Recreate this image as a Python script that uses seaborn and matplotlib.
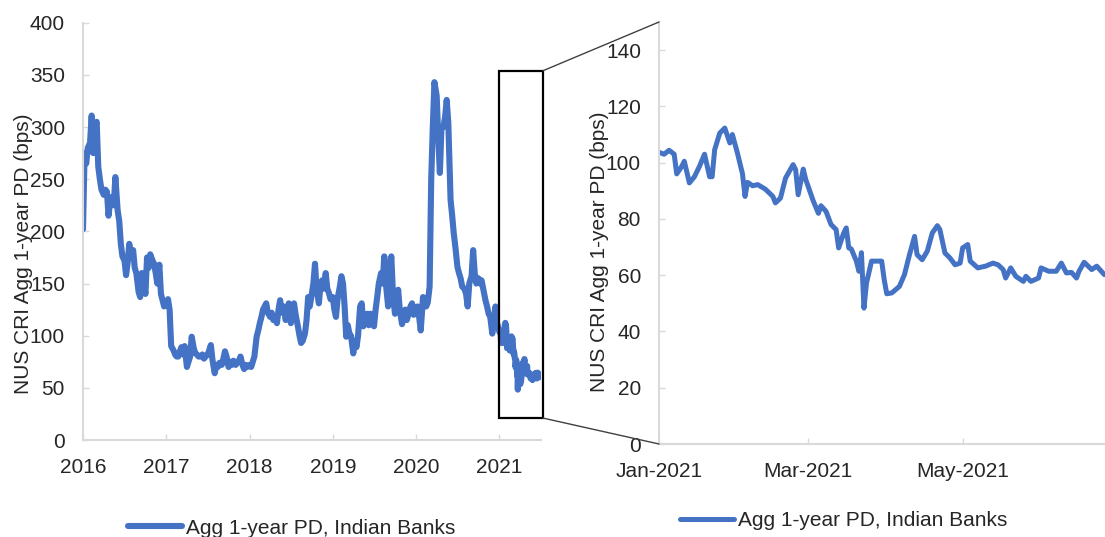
import numpy as np
import pandas as pd
import matplotlib
matplotlib.use("Agg")
import matplotlib.pyplot as plt
import matplotlib.dates as mdates
from matplotlib.patches import Rectangle, ConnectionPatch
import seaborn as sns

# ---------------- data ----------------
# weekly readings (days 1, 8, 15, 22 of each month), bps
vals_2016 = [202, 275, 265, 280, 285, 311, 275, 300, 305, 262, 250, 240,
             235, 240, 238, 215, 232, 233, 225, 252, 220, 210, 188, 176,
             172, 158, 170, 188, 175, 182, 165, 160, 142, 137, 160, 153,
             140, 175, 165, 178, 172, 169, 160, 150, 168, 140, 134, 128]
vals_2017 = [130, 135, 125, 90, 86, 82, 80, 80, 85, 89, 82, 90,
             70, 75, 80, 99, 88, 83, 82, 80, 80, 82, 78, 80,
             82, 86, 91, 77, 64, 72, 70, 74, 72, 78, 85, 80,
             70, 75, 72, 76, 72, 74, 76, 80, 72, 68, 72, 70]
vals_2018 = [72, 70, 75, 80, 99, 105, 112, 118, 125, 128, 131, 122,
             118, 122, 115, 118, 112, 125, 134, 122, 128, 115, 120, 131,
             112, 125, 131, 120, 109, 100, 93, 95, 102, 115, 137, 128,
             140, 150, 169, 145, 131, 148, 153, 145, 160, 145, 141, 135]
vals_2019 = [137, 125, 118, 135, 147, 157, 150, 128, 99, 110, 102, 100,
             83, 95, 89, 100, 128, 131, 109, 115, 121, 110, 121, 112,
             109, 125, 137, 150, 160, 150, 176, 150, 128, 165, 176, 140,
             121, 130, 144, 125, 111, 118, 125, 115, 122, 128, 131, 120]
vals_2020 = [125, 128, 118, 105, 137, 130, 128, 132, 147, 250, 300, 343,
             330, 290, 256, 300, 300, 310, 326, 304, 230, 215, 198, 185,
             166, 160, 155, 147, 145, 140, 128, 150, 157, 182, 160, 150,
             155, 150, 153, 145, 134, 128, 121, 118, 102, 115, 128, 112]

# 2021: days after 1 Jan 2021 and readings (zoomed panel)
days_2021 = [0, 2, 4, 6, 7, 9, 10, 12, 14, 16, 18, 20, 21, 22, 24, 26, 28, 29,
             31, 33, 34, 35, 37, 39, 42, 45, 46, 48, 50, 53, 54, 55, 57, 58,
             61, 63, 64, 66, 68, 70, 71, 73, 74, 75, 76, 78, 79, 80, 81, 82,
             84, 86, 88, 89, 90, 92, 95, 97, 99, 101, 102, 104, 106, 108, 110,
             111, 113, 115, 117, 119, 120, 122, 123, 126, 129, 132, 134, 136,
             137, 139, 141, 144, 145, 147, 150, 151, 154, 157, 159, 161, 163,
             165, 166, 168, 171, 173, 176]
vals_2021 = [103.7, 103, 104.4, 103, 96, 98.7, 100.5, 92.8, 95, 98.7, 103, 95,
             95, 104.6, 110.5, 112.3, 107, 110, 103.4, 96, 88, 93, 91.8, 92.2,
             90.6, 88, 85.7, 87.4, 94.5, 99.3, 97.5, 88.6, 97.7, 94, 86.3, 82,
             84.7, 82.7, 78, 76.2, 69.7, 75, 76.8, 69.7, 69.3, 65, 61.4, 68,
             48.3, 57.2, 65, 65, 65, 58.4, 53.4, 53.7, 56, 60.2, 67.3, 73.8,
             67.3, 65.5, 68.5, 75, 77.6, 76.2, 67.9, 66.1, 63.7, 64.3, 69.7,
             70.9, 65, 62.6, 63.2, 64.3, 63.7, 62, 59, 62.6, 59.6, 57.8, 59.6,
             57.8, 59, 62.6, 61.4, 61.4, 64.3, 60.8, 61, 59, 61.4, 64.6, 62,
             63.2, 60.2]

years = [2016, 2017, 2018, 2019, 2020]
week_days = [1, 8, 15, 22]
series_label = "Agg 1-year PD, Indian Banks"
y_label = "NUS CRI Agg 1-year PD (bps)"
left_yticks = [0, 50, 100, 150, 200, 250, 300, 350, 400]
right_yticks = [0, 20, 40, 60, 80, 100, 120, 140]

dates_hist = [pd.Timestamp(y, m, d) for y in years for m in range(1, 13) for d in week_days]
dates_2021 = list(pd.Timestamp("2021-01-01") + pd.to_timedelta(days_2021, unit="D"))
df_all = pd.DataFrame({
    "date": dates_hist + dates_2021,
    "pd": vals_2016 + vals_2017 + vals_2018 + vals_2019 + vals_2020 + vals_2021,
})
df_21 = pd.DataFrame({"date": dates_2021, "pd": vals_2021})

# ---------------- style ----------------
BLUE = "#4472C4"
SPINE = "#d9d9d9"
TXT = "#262626"
sns.set_theme(style="white")
plt.rcParams["font.family"] = ["Liberation Sans", "DejaVu Sans"]

W, H = 1105, 537
fig = plt.figure(figsize=(W / 100, H / 100), dpi=100)
ax1 = fig.add_axes([83 / W, 1 - 440 / H, 457.6 / W, 417.3 / H])
ax2 = fig.add_axes([659 / W, 1 - 444 / H, 458 / W, 422 / H])

sns.lineplot(data=df_all, x="date", y="pd", ax=ax1, color=BLUE, lw=4.4,
             estimator=None, sort=False, legend=False)
sns.lineplot(data=df_21, x="date", y="pd", ax=ax2, color=BLUE, lw=3.6,
             estimator=None, sort=False, legend=False)

# left axis
ax1.set_xlim(pd.Timestamp("2016-01-01"), pd.Timestamp("2021-07-01"))
ax1.set_ylim(0, 400)
ax1.set_yticks(left_yticks)
ax1.set_xticks([pd.Timestamp(f"{y}-01-01") for y in range(2016, 2022)])
ax1.xaxis.set_major_formatter(mdates.DateFormatter("%Y"))

# right axis
ax2.set_xlim(pd.Timestamp("2021-01-01"), pd.Timestamp("2021-07-01"))
ax2.set_ylim(0, 150)
ax2.set_yticks(right_yticks)
ax2.set_xticks([pd.Timestamp("2021-01-01"), pd.Timestamp("2021-03-01"), pd.Timestamp("2021-05-01")])
ax2.xaxis.set_major_formatter(mdates.DateFormatter("%b-%Y"))

for ax, lx, ly in ((ax1, -0.13, 0.446), (ax2, -0.13, 0.455)):
    for s in ("top", "right"):
        ax.spines[s].set_visible(False)
    for s in ("left", "bottom"):
        ax.spines[s].set_color(SPINE)
        ax.spines[s].set_linewidth(1.5)
    ax.tick_params(axis="both", direction="in", length=4, width=1, color=SPINE,
                   labelsize=15, labelcolor=TXT, pad=13)
    ax.tick_params(axis="both", which="both", bottom=True, left=True)
    ax.set_xlabel("")
    ax.set_ylabel(y_label, fontsize=15, color=TXT)
    ax.yaxis.label.set_verticalalignment("center")
    ax.yaxis.label.set_horizontalalignment("center")
    ax.yaxis.set_label_coords(lx, ly)
    ax.grid(False)

# zoom box on the left panel
x0 = mdates.date2num(pd.Timestamp("2021-01-01"))
x1 = mdates.date2num(pd.Timestamp("2021-07-12"))
box = Rectangle((x0, 21), x1 - x0, 333, fill=False, ec="black", lw=1.6, clip_on=False, zorder=5)
ax1.add_patch(box)

for ya, yb in ((354, 1), (21, 0)):
    con = ConnectionPatch(xyA=(x1, ya), coordsA=ax1.transData,
                          xyB=(0, yb), coordsB=ax2.transAxes,
                          color="#404040", lw=1)
    fig.add_artist(con)

# legends
for ax, lx, ly in ((ax1, 128, 528), (ax2, 680, 521)):
    fig.legend([ax.lines[0]], [series_label], loc="center left",
               bbox_to_anchor=(lx / W, 1 - ly / H), frameon=False,
               borderpad=0, borderaxespad=0, handlelength=2.6,
               handletextpad=0.2, fontsize=15, labelcolor=TXT)

fig.savefig("out.png", dpi=100)
